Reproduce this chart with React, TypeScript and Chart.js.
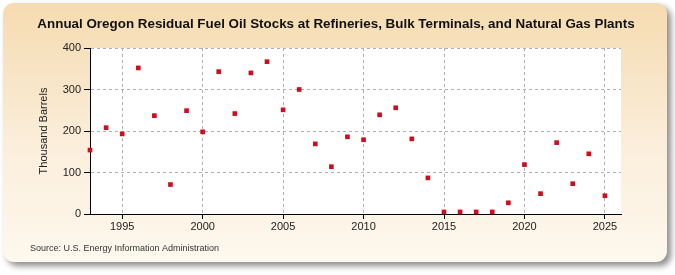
import { useEffect, useRef } from "react";
import { Chart, registerables } from "chart.js";

Chart.register(...registerables);

// Annual stocks, thousand barrels
const years = [
  1993, 1994, 1995, 1996, 1997, 1998, 1999, 2000, 2001, 2002, 2003,
  2004, 2005, 2006, 2007, 2008, 2009, 2010, 2011, 2012, 2013, 2014,
  2015, 2016, 2017, 2018, 2019, 2020, 2021, 2022, 2023, 2024, 2025,
];
const stocks = [
  154, 208, 193, 352, 237, 71, 249, 198, 343, 242, 340,
  367, 251, 300, 169, 114, 186, 179, 239, 256, 181, 87,
  5, 5, 5, 5, 27, 119, 49, 172, 73, 145, 44,
];
const xTicks = [1995, 2000, 2005, 2010, 2015, 2020, 2025];
const yTicks = [0, 100, 200, 300, 400];

const titleText =
  "Annual Oregon Residual Fuel Oil Stocks at Refineries, Bulk Terminals, and Natural Gas Plants";
const yAxisTitle = "Thousand Barrels";
const sourceText = "Source: U.S. Energy Information Administration";

const FONT = '"Liberation Sans", Arial, sans-serif';
const W = 675;
const H = 275;

function roundRect(ctx: CanvasRenderingContext2D, x: number, y: number, w: number, h: number, r: number) {
  ctx.beginPath();
  ctx.moveTo(x + r, y);
  ctx.lineTo(x + w - r, y);
  ctx.arcTo(x + w, y, x + w, y + r, r);
  ctx.lineTo(x + w, y + h - r);
  ctx.arcTo(x + w, y + h, x + w - r, y + h, r);
  ctx.lineTo(x + r, y + h);
  ctx.arcTo(x, y + h, x, y + h - r, r);
  ctx.lineTo(x, y + r);
  ctx.arcTo(x, y, x + r, y, r);
  ctx.closePath();
}

// Beige rounded panel with a drop shadow, and a white plot area
const panelPlugin = {
  id: "panel",
  beforeDraw(chart: Chart) {
    const { ctx, chartArea } = chart;
    ctx.save();
    ctx.shadowColor = "rgba(0,0,0,0.45)";
    ctx.shadowBlur = 6;
    ctx.shadowOffsetX = 4;
    ctx.shadowOffsetY = 4;
    const g = ctx.createLinearGradient(0, 3, 0, 263);
    g.addColorStop(0, "#f5dbb0");
    g.addColorStop(0.55, "#fbeedb");
    g.addColorStop(1, "#fef8ee");
    ctx.fillStyle = g;
    roundRect(ctx, 3, 3, 664, 259, 11);
    ctx.fill();
    ctx.restore();

    ctx.save();
    ctx.fillStyle = "#ffffff";
    ctx.fillRect(chartArea.left, chartArea.top, chartArea.right - chartArea.left, chartArea.bottom - chartArea.top);
    ctx.restore();
  },
  afterDraw(chart: Chart) {
    const { ctx, chartArea } = chart;
    ctx.save();
    ctx.fillStyle = "#111111";
    ctx.font = `bold 13.4px ${FONT}`;
    ctx.textAlign = "center";
    ctx.textBaseline = "middle";
    ctx.fillText(titleText, 336, 24);

    ctx.font = `11px ${FONT}`;
    ctx.fillStyle = "#222222";
    ctx.save();
    ctx.translate(44, (chartArea.top + chartArea.bottom) / 2);
    ctx.rotate(-Math.PI / 2);
    ctx.fillText(yAxisTitle, 0, 0);
    ctx.restore();

    ctx.font = `9px ${FONT}`;
    ctx.textAlign = "left";
    ctx.fillStyle = "#333333";
    ctx.fillText(sourceText, 30, 249);
    ctx.restore();
  },
};

export default function App() {
  const canvasRef = useRef<HTMLCanvasElement | null>(null);

  useEffect(() => {
    const canvas = canvasRef.current;
    if (!canvas) return;
    const chart = new Chart(canvas, {
      type: "scatter",
      data: {
        datasets: [
          {
            data: years.map((y, i) => ({ x: y, y: stocks[i] })),
            pointStyle: "rect",
            pointRadius: 3.3,
            pointHoverRadius: 3.3,
            borderWidth: 0,
            backgroundColor: "#cc0f1f",
            clip: false,
          },
        ],
      },
      options: {
        animation: false,
        responsive: false,
        devicePixelRatio: 1,
        layout: { padding: { left: 0, right: 54, top: 48, bottom: 0 } },
        plugins: {
          legend: { display: false },
          tooltip: { enabled: false },
        },
        scales: {
          x: {
            type: "linear",
            min: 1993,
            max: 2026,
            afterFit: (s: any) => {
              s.height = 61;
            },
            afterBuildTicks: (s: any) => {
              s.ticks = xTicks.map((v) => ({ value: v }));
            },
            grid: { color: "#b0b0b0", tickColor: "#000000", tickLength: 5 },
            border: { color: "#000000", width: 1, dash: [3, 3] },
            ticks: {
              font: { size: 11, family: FONT },
              color: "#222222",
              padding: 1,
              maxRotation: 0,
              callback: (v: any) => String(v),
            },
          },
          y: {
            min: 0,
            max: 400,
            afterFit: (s: any) => {
              s.width = 90;
            },
            afterBuildTicks: (s: any) => {
              s.ticks = yTicks.map((v) => ({ value: v }));
            },
            grid: { color: "#b0b0b0", tickColor: "#000000", tickLength: 6 },
            border: { color: "#000000", width: 1, dash: [3, 3] },
            ticks: {
              font: { size: 11, family: FONT },
              color: "#222222",
              padding: 3,
              callback: (v: any) => String(v),
            },
          },
        },
      },
      plugins: [panelPlugin],
    });
    return () => chart.destroy();
  }, []);

  return (
    <div style={{ position: "absolute", left: 0, top: 0, width: W, height: H }}>
      <canvas ref={canvasRef} width={W} height={H} style={{ display: "block" }} />
    </div>
  );
}
